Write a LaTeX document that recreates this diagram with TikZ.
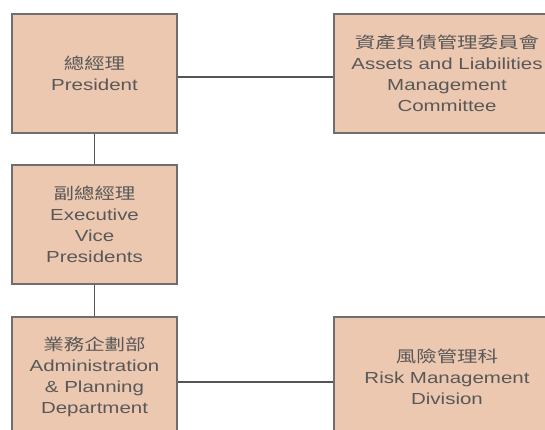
\documentclass[tikz,border=0pt]{standalone}
\usepackage{fontspec}
\setmainfont{Liberation Sans}[FakeStretch=1.28]
\newfontfamily\cjk{Noto Sans CJK TC}[FakeStretch=1.28]
\definecolor{boxfill}{RGB}{237,200,176}
\definecolor{boxline}{RGB}{110,110,110}
\definecolor{txt}{RGB}{88,88,88}
\definecolor{conn}{RGB}{85,85,85}
\tikzset{
  orgbox/.style={draw=boxline, line width=1.5pt, fill=boxfill, rectangle, inner sep=0pt,
    align=center, text=txt, font=\fontsize{16}{21}\selectfont},
  connline/.style={draw=conn, line width=1.3pt}
}
\begin{document}
\begin{tikzpicture}[x=1pt,y=-1pt]
\useasboundingbox (0,0) rectangle (545,430);
\clip (0,0) rectangle (545,430);
\node[orgbox, minimum width=165pt, minimum height=119pt] (b1) at (94.5,73.5) {{\cjk 總經理}\\President};
\node[orgbox, minimum width=226pt, minimum height=119pt] (b2) at (447,73.5) {{\cjk 資產負債管理委員會}\\Assets and Liabilities\\Management\\Committee};
\node[orgbox, minimum width=165pt, minimum height=119pt] (b3) at (94.5,224.5) {{\cjk 副總經理}\\Executive\\Vice\\Presidents};
\node[orgbox, minimum width=165pt, minimum height=120pt] (b4) at (94.5,377) {{\cjk 業務企劃部}\\Administration\\\& Planning\\Department};
\node[orgbox, minimum width=226pt, minimum height=120pt] (b5) at (447,377) {{\cjk 風險管理科}\\Risk Management\\Division};
\draw[connline] ([yshift=-3.5pt]b1.east) -- ([yshift=-3.5pt]b2.west);
\draw[connline] (b1.south) -- (b3.north);
\draw[connline] (b3.south) -- (b4.north);
\draw[connline] ([yshift=-5pt]b4.east) -- ([yshift=-5pt]b5.west);
\end{tikzpicture}
\end{document}
